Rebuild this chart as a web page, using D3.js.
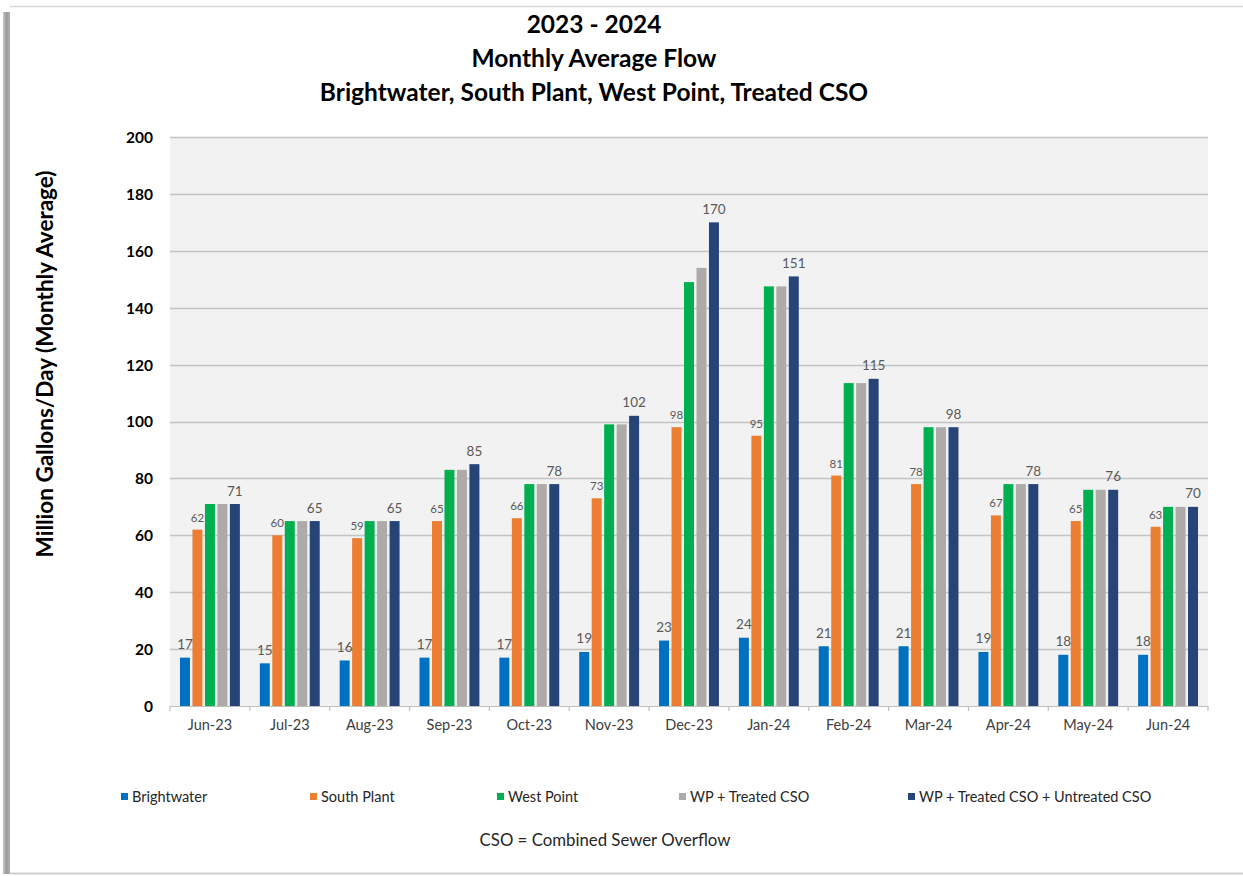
<!DOCTYPE html>
<html>
<head>
<meta charset="utf-8">
<script src="https://cdn.jsdelivr.net/npm/d3@7"></script>
<style>
html,body{margin:0;padding:0;background:#fff;}
svg{display:block;}
text{font-family:Lato,"Open Sans",sans-serif;}
</style>
</head>
<body>
<svg id="chart" width="1243" height="876"></svg>
<script>
const months = ["Jun-23","Jul-23","Aug-23","Sep-23","Oct-23","Nov-23","Dec-23","Jan-24","Feb-24","Mar-24","Apr-24","May-24","Jun-24"];
const seriesNames = ["Brightwater","South Plant","West Point","WP + Treated CSO","WP + Treated CSO + Untreated CSO"];
const brightwater = [17,15,16,17,17,19,23,24,21,21,19,18,18];
const southPlant = [62,60,59,65,66,73,98,95,81,78,67,65,63];
const westPoint = [71,65,65,83,78,99,149,147.5,113.5,98,78,76,70];
const wpTreated = [71,65,65,83,78,99,154,147.5,113.5,98,78,76,70];
const wpTotal = [71,65,65,85,78,102,170,151,115,98,78,76,70];
const yTicks = [0,20,40,60,80,100,120,140,160,180,200];
const titleLines = ["2023 - 2024","Monthly Average Flow","Brightwater, South Plant, West Point, Treated CSO"];
const yTitle = "Million Gallons/Day (Monthly Average)";
const footnote = "CSO = Combined Sewer Overflow";

const colors = ["#0070C0","#ED7D31","#00B050","#AEAAAA","#264478"];
const allSeries = [brightwater, southPlant, westPoint, wpTreated, wpTotal];
const labeled = [true, true, false, false, true];

const svg = d3.select("#chart");

// frame
svg.append("line").attr("x1",10).attr("x2",1243).attr("y1",6.5).attr("y2",6.5).attr("stroke","#d9d9d9").attr("stroke-width",1.5);
svg.append("line").attr("x1",10).attr("x2",1243).attr("y1",873.5).attr("y2",873.5).attr("stroke","#cfcfcf").attr("stroke-width",2);
const grad = svg.append("defs").append("linearGradient").attr("id","shadow").attr("x1","0").attr("x2","1");
grad.append("stop").attr("offset","0").attr("stop-color","#c8c8c8");
grad.append("stop").attr("offset","0.5").attr("stop-color","#9a9a9a");
grad.append("stop").attr("offset","1").attr("stop-color","#b0b0b0");
svg.append("rect").attr("x",3).attr("y",12).attr("width",7).attr("height",862).attr("fill","url(#shadow)");

const pLeft = 170, pRight = 1208, pTop = 137, pBottom = 706;

const x0 = d3.scaleBand().domain(months).range([pLeft,pRight]).paddingInner(0.25).paddingOuter(0.125);
const x1 = d3.scaleBand().domain(d3.range(5)).range([0,x0.bandwidth()]).paddingInner(0.2);
const y = d3.scaleLinear().domain([0,200]).range([pBottom,pTop]);

// plot background
svg.append("rect").attr("x",pLeft).attr("y",pTop).attr("width",pRight-pLeft).attr("height",pBottom-pTop).attr("fill","#f2f2f2");

// gridlines
svg.append("g").selectAll("line").data(yTicks.filter(d=>d>0)).join("line")
  .attr("x1",pLeft).attr("x2",pRight)
  .attr("y1",d=>Math.round(y(d))+0.5).attr("y2",d=>Math.round(y(d))+0.5)
  .attr("stroke","#c4c4c4").attr("stroke-width",1.5);

// y axis labels
const yAxis = d3.axisLeft(y).tickValues(yTicks).tickSize(0).tickPadding(0);
const yg = svg.append("g").attr("transform",`translate(${153},0)`).call(yAxis);
yg.select(".domain").remove();
yg.selectAll("text").attr("font-size",15.5).attr("font-weight","bold").attr("fill","#000").attr("font-family","Lato").attr("dy","0.35em");

// bars
const groups = svg.append("g").selectAll("g").data(months).join("g")
  .attr("transform",d=>`translate(${x0(d)},0)`);
groups.selectAll("rect").data((m,i)=>allSeries.map((s,k)=>({k,v:s[i]}))).join("rect")
  .attr("x",d=>x1(d.k)).attr("width",x1.bandwidth())
  .attr("y",d=>y(d.v)).attr("height",d=>y(0)-y(d.v))
  .attr("fill",d=>colors[d.k]);

// value labels
groups.selectAll("text.val").data((m,i)=>allSeries.map((s,k)=>({k,v:s[i]})).filter(d=>labeled[d.k])).join("text")
  .attr("class","val")
  .attr("x",d=>x1(d.k)+x1.bandwidth()/2)
  .attr("y",d=>y(d.v)-(d.k===1?8:8.5))
  .attr("text-anchor","middle")
  .attr("font-size",d=>d.k===1?11.5:13.5)
  .attr("fill","#595959")
  .text(d=>Math.round(d.v));

// x axis
const xAxis = d3.axisBottom(x0).tickSize(0).tickPadding(14);
const xg = svg.append("g").attr("transform",`translate(0,${pBottom})`).call(xAxis);
xg.select(".domain").attr("stroke","#bfbfbf").attr("stroke-width",1.2);
xg.selectAll("text").attr("font-size",14.5).attr("fill","#404040").attr("font-family","Lato");
// category boundary ticks
const bounds = months.map(m=>x0(m)-x0.step()*0.125).concat([pRight]);
svg.append("g").selectAll("line").data(bounds).join("line")
  .attr("x1",d=>d).attr("x2",d=>d).attr("y1",pBottom).attr("y2",pBottom+5)
  .attr("stroke","#bfbfbf").attr("stroke-width",1.2);

// titles
svg.append("g").selectAll("text").data(titleLines).join("text")
  .attr("x",594).attr("y",(d,i)=>33+i*34)
  .attr("text-anchor","middle").attr("font-size",24.5).attr("font-weight","bold").attr("fill","#000")
  .text(d=>d);

// y title
svg.append("text").attr("transform",`translate(53,${364}) rotate(-90)`)
  .attr("text-anchor","middle").attr("font-size",22.5).attr("font-weight","bold").attr("fill","#000")
  .text(yTitle);

// legend
const legendX = [121,310,497,679,908];
const lg = svg.append("g").selectAll("g").data(seriesNames).join("g")
  .attr("transform",(d,i)=>`translate(${legendX[i]},797)`);
lg.append("rect").attr("x",0).attr("y",-4).attr("width",7).attr("height",7).attr("fill",(d,i)=>colors[i]);
lg.append("text").attr("x",11).attr("y",5).attr("font-size",14.5).attr("fill","#262626").text(d=>d);

// footnote
svg.append("text").attr("x",605).attr("y",846).attr("text-anchor","middle").attr("font-size",16.8).attr("fill","#262626").text(footnote);
</script>
</body>
</html>
